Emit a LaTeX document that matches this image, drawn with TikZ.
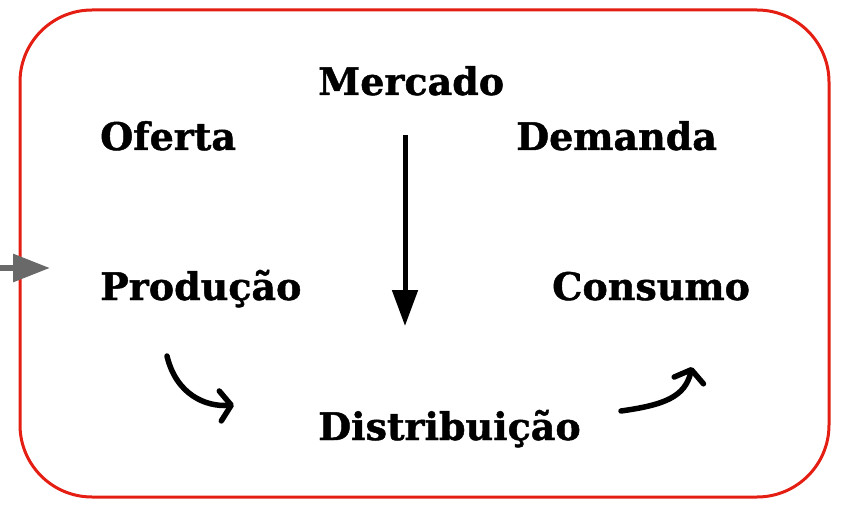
\documentclass[tikz,border=0pt]{standalone}
\usepackage{fontspec}
\setmainfont{DejaVu Serif}[BoldFeatures={FakeBold=1.2}]
\usetikzlibrary{arrows.meta}
\definecolor{frame}{RGB}{228,30,18}
\definecolor{arrowgray}{RGB}{105,105,105}
\tikzset{
  lbl/.style={anchor=base west, inner sep=0pt, font=\fontsize{38}{42}\selectfont\bfseries},
  bigarrow/.style={line width=5pt, -{Triangle[length=36pt,width=25pt]}},
  curvearrow/.style={line width=5.5pt, line cap=round, -{Straight Barb[length=11pt,width=30pt,line cap=round,line join=round]}},
}
\begin{document}
\begin{tikzpicture}[x=1pt,y=-1pt]
\useasboundingbox (0,0) rectangle (846,505);
\draw[frame, line width=3pt, rounded corners=72pt] (20,10) rectangle (829,497);
\node[lbl] (mercado) at (318,95) {Mercado};
\node[lbl] (oferta) at (100,150) {Oferta};
\node[lbl] (demanda) at (516,150) {Demanda};
\node[lbl] (producao) at (100,300) {Produção};
\node[lbl] (consumo) at (552,300) {Consumo};
\node[lbl] (distrib) at (318,440) {Distribuição};
\coordinate (g0) at (0,268);
\coordinate (g1) at (50,268);
\draw[arrowgray, line width=6pt, -{Triangle[length=37pt,width=27pt]}] (g0) -- (g1);
\coordinate (v0) at (405,135);
\coordinate (v1) at (405,326);
\draw[bigarrow] (v0) -- (v1);
\coordinate (l0) at (167,356);
\coordinate (l1) at (234,405);
\draw[curvearrow] (l0) .. controls (176,394) and (205,407) .. (l1);
\coordinate (r0) at (621,411);
\coordinate (r1) at (692,367);
\draw[curvearrow] (r0) .. controls (664,405) and (685,397) .. (r1);
\end{tikzpicture}
\end{document}
